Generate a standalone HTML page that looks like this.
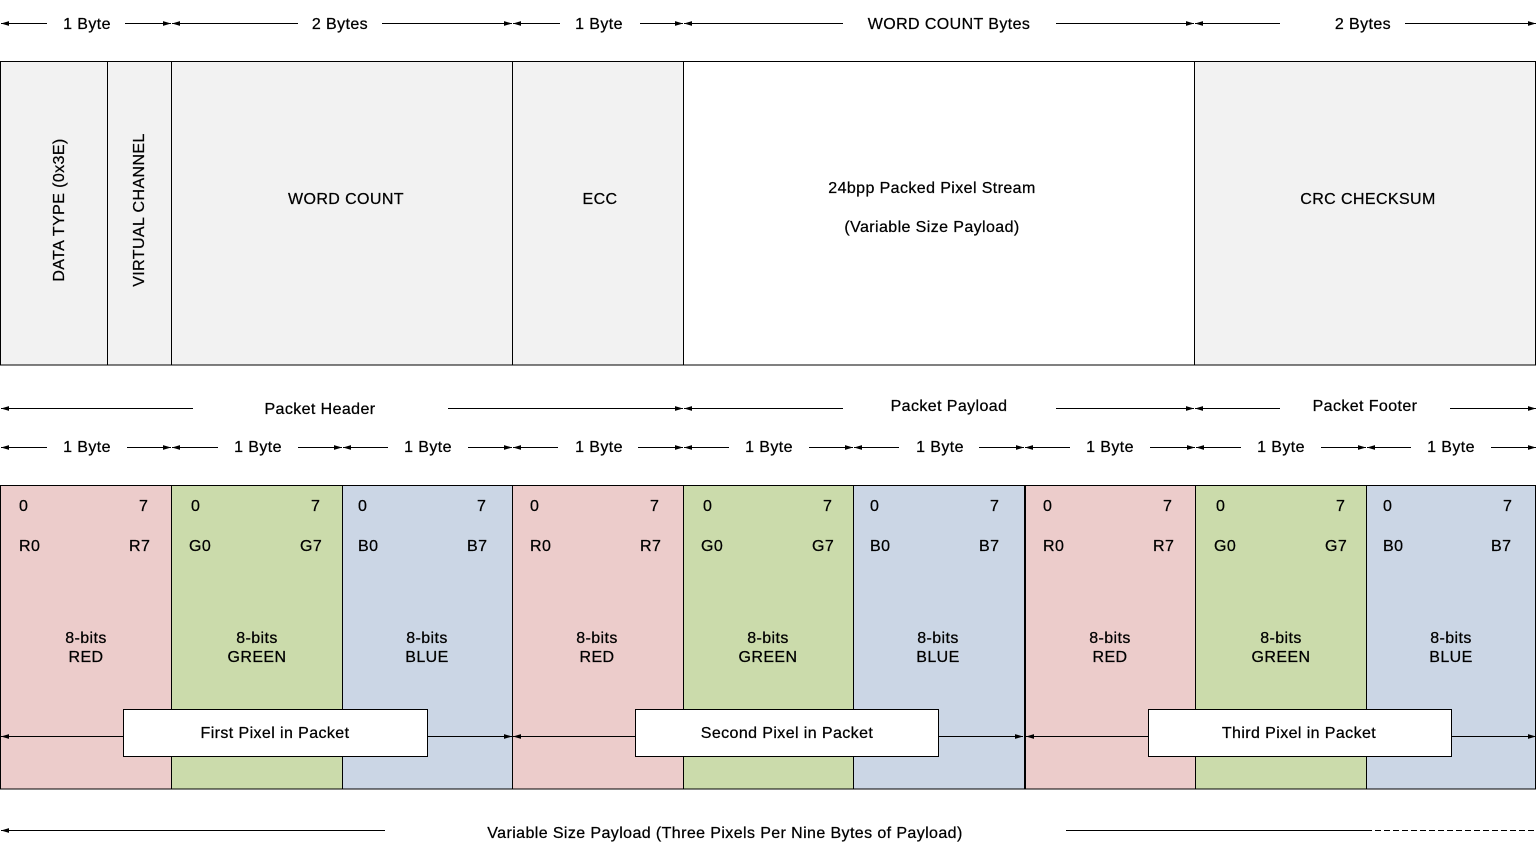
<!DOCTYPE html>
<html><head><meta charset="utf-8"><style>
html,body{margin:0;padding:0;background:#fff}
svg{display:block}
text{font-family:"Liberation Sans",Arial,sans-serif;font-size:16px;letter-spacing:0.4px;fill:#000;stroke:#000;stroke-width:0.25}
</style></head><body>
<svg width="1538" height="859" viewBox="0 0 1538 859" xmlns="http://www.w3.org/2000/svg">
<defs>
<marker id="a" viewBox="0 0 10 6" refX="10" refY="3" markerWidth="8" markerHeight="5" orient="auto-start-reverse" markerUnits="userSpaceOnUse"><path d="M0,0L10,3L0,6z" fill="#000"/></marker>
</defs>
<g stroke="#000" stroke-width="1" marker-start="url(#a)" marker-end="url(#a)">
<line x1="1" y1="23.5" x2="171" y2="23.5"/>
<line x1="172" y1="23.5" x2="512" y2="23.5"/>
<line x1="513" y1="23.5" x2="683" y2="23.5"/>
<line x1="684" y1="23.5" x2="1194" y2="23.5"/>
<line x1="1195" y1="23.5" x2="1536" y2="23.5"/>
<line x1="1" y1="408.5" x2="683" y2="408.5"/>
<line x1="684" y1="408.5" x2="1194" y2="408.5"/>
<line x1="1195" y1="408.5" x2="1536" y2="408.5"/>
<line x1="1" y1="447.5" x2="171" y2="447.5"/>
<line x1="172" y1="447.5" x2="342" y2="447.5"/>
<line x1="343" y1="447.5" x2="512" y2="447.5"/>
<line x1="513" y1="447.5" x2="683" y2="447.5"/>
<line x1="684" y1="447.5" x2="853" y2="447.5"/>
<line x1="854" y1="447.5" x2="1024" y2="447.5"/>
<line x1="1025" y1="447.5" x2="1195" y2="447.5"/>
<line x1="1196" y1="447.5" x2="1366" y2="447.5"/>
<line x1="1367" y1="447.5" x2="1536" y2="447.5"/>
</g>
<g fill="#fff">
<rect x="47" y="12" width="78" height="22"/><rect x="298" y="12" width="84" height="22"/><rect x="560" y="12" width="80" height="22"/><rect x="843" y="12" width="213" height="22"/><rect x="1280" y="12" width="125" height="22"/>
<rect x="193" y="396" width="255" height="24"/><rect x="843" y="396" width="213" height="24"/><rect x="1280" y="396" width="170" height="24"/>
<rect x="47" y="436" width="80" height="22"/><rect x="218" y="436" width="80" height="22"/><rect x="388" y="436" width="80" height="22"/><rect x="558" y="436" width="80" height="22"/><rect x="729" y="436" width="80" height="22"/><rect x="899" y="436" width="80" height="22"/><rect x="1070" y="436" width="80" height="22"/><rect x="1241" y="436" width="80" height="22"/><rect x="1411" y="436" width="80" height="22"/>
</g>
<g text-anchor="middle">
<text x="87" y="29">1 Byte</text><text x="340" y="29">2 Bytes</text><text x="599" y="29">1 Byte</text><text x="949" y="29">WORD COUNT Bytes</text><text x="1363" y="29">2 Bytes</text>
<text x="320" y="414">Packet Header</text><text x="949" y="411">Packet Payload</text><text x="1365" y="411">Packet Footer</text>
<text x="87" y="452">1 Byte</text><text x="258" y="452">1 Byte</text><text x="428" y="452">1 Byte</text><text x="599" y="452">1 Byte</text><text x="769" y="452">1 Byte</text><text x="940" y="452">1 Byte</text><text x="1110" y="452">1 Byte</text><text x="1281" y="452">1 Byte</text><text x="1451" y="452">1 Byte</text>
</g>
<g stroke="#000" stroke-width="1">
<rect x="0.5" y="61.5" width="1535" height="303.5" fill="#f2f2f2"/>
<rect x="683.5" y="61.5" width="511" height="303.5" fill="#fff"/>
<line x1="107.5" y1="61" x2="107.5" y2="365"/><line x1="171.5" y1="61" x2="171.5" y2="365"/><line x1="512.5" y1="61" x2="512.5" y2="365"/>
</g>
<text x="59" y="210" text-anchor="middle" transform="rotate(-90 59 210)" dy="5">DATA TYPE (0x3E)</text>
<text x="139" y="210" text-anchor="middle" transform="rotate(-90 139 210)" dy="5">VIRTUAL CHANNEL</text>
<g text-anchor="middle">
<text x="346" y="204">WORD COUNT</text><text x="600" y="204">ECC</text>
<text x="932" y="193">24bpp Packed Pixel Stream</text><text x="932" y="232">(Variable Size Payload)</text>
<text x="1368" y="204">CRC CHECKSUM</text>
</g>
<g stroke="#000" stroke-width="1">
<rect x="0.5" y="485.5" width="171" height="303.5" fill="#eccccb"/><rect x="171.5" y="485.5" width="171" height="303.5" fill="#cbdbab"/><rect x="342.5" y="485.5" width="170" height="303.5" fill="#cbd6e5"/>
<rect x="512.5" y="485.5" width="171" height="303.5" fill="#eccccb"/><rect x="683.5" y="485.5" width="170" height="303.5" fill="#cbdbab"/><rect x="853.5" y="485.5" width="171" height="303.5" fill="#cbd6e5"/>
<rect x="1025.5" y="485.5" width="170" height="303.5" fill="#eccccb"/><rect x="1195.5" y="485.5" width="171" height="303.5" fill="#cbdbab"/><rect x="1366.5" y="485.5" width="169" height="303.5" fill="#cbd6e5"/>
<line x1="1024.5" y1="485" x2="1024.5" y2="789"/>
</g>
<g stroke="#000" stroke-width="1" marker-start="url(#a)" marker-end="url(#a)">
<line x1="1" y1="736.5" x2="512" y2="736.5"/><line x1="513" y1="736.5" x2="1023" y2="736.5"/><line x1="1026" y1="736.5" x2="1536" y2="736.5"/>
</g>
<g fill="#fff" stroke="#000">
<rect x="123.5" y="709.5" width="304" height="47"/><rect x="635.5" y="709.5" width="303" height="47"/><rect x="1148.5" y="709.5" width="303" height="47"/>
</g>
<g text-anchor="middle">
<text x="275" y="738">First Pixel in Packet</text><text x="787" y="738">Second Pixel in Packet</text><text x="1299" y="738">Third Pixel in Packet</text>
</g>
<g style="font-size:14px;letter-spacing:0.2px;stroke-width:0;fill:#333">
<text x="19" y="511">0</text><text x="139" y="511">7</text><text x="19" y="551">R0</text><text x="129" y="551">R7</text>
<text x="191" y="511">0</text><text x="311" y="511">7</text><text x="189" y="551">G0</text><text x="300" y="551">G7</text>
<text x="358" y="511">0</text><text x="477" y="511">7</text><text x="358" y="551">B0</text><text x="467" y="551">B7</text>
<text x="530" y="511">0</text><text x="650" y="511">7</text><text x="530" y="551">R0</text><text x="640" y="551">R7</text>
<text x="703" y="511">0</text><text x="823" y="511">7</text><text x="701" y="551">G0</text><text x="812" y="551">G7</text>
<text x="870" y="511">0</text><text x="990" y="511">7</text><text x="870" y="551">B0</text><text x="979" y="551">B7</text>
<text x="1043" y="511">0</text><text x="1163" y="511">7</text><text x="1043" y="551">R0</text><text x="1153" y="551">R7</text>
<text x="1216" y="511">0</text><text x="1336" y="511">7</text><text x="1214" y="551">G0</text><text x="1325" y="551">G7</text>
<text x="1383" y="511">0</text><text x="1503" y="511">7</text><text x="1383" y="551">B0</text><text x="1491" y="551">B7</text>
</g>
<g text-anchor="middle">
<text x="86" y="643">8-bits</text><text x="86" y="662">RED</text>
<text x="257" y="643">8-bits</text><text x="257" y="662">GREEN</text>
<text x="427" y="643">8-bits</text><text x="427" y="662">BLUE</text>
<text x="597" y="643">8-bits</text><text x="597" y="662">RED</text>
<text x="768" y="643">8-bits</text><text x="768" y="662">GREEN</text>
<text x="938" y="643">8-bits</text><text x="938" y="662">BLUE</text>
<text x="1110" y="643">8-bits</text><text x="1110" y="662">RED</text>
<text x="1281" y="643">8-bits</text><text x="1281" y="662">GREEN</text>
<text x="1451" y="643">8-bits</text><text x="1451" y="662">BLUE</text>
</g>
<line x1="1" y1="830.5" x2="385" y2="830.5" stroke="#000" marker-start="url(#a)"/>
<line x1="1066" y1="830.5" x2="1366" y2="830.5" stroke="#000"/>
<line x1="1366" y1="830.5" x2="1536" y2="830.5" stroke="#000" stroke-dasharray="6,3"/>
<text x="725" y="838" text-anchor="middle">Variable Size Payload (Three Pixels Per Nine Bytes of Payload)</text>
</svg>
</body></html>
